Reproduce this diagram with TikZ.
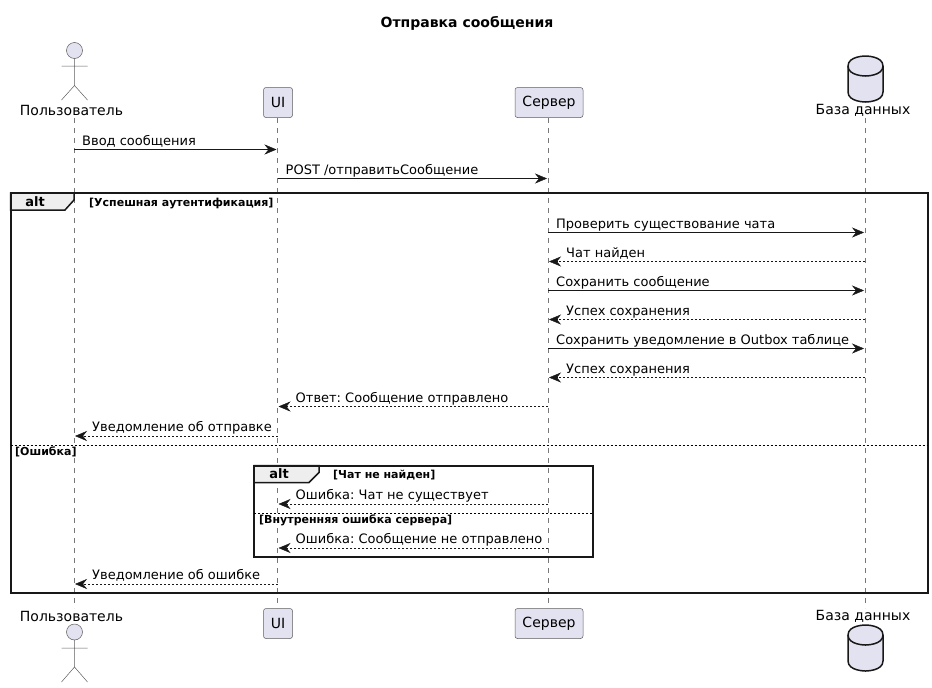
\documentclass[tikz,border=0pt]{standalone}
\usepackage{fontspec}
\setmainfont{DejaVu Sans}
\usetikzlibrary{arrows.meta}
\frenchspacing
\definecolor{partfill}{HTML}{E2E2F0}
\definecolor{ink}{HTML}{181818}
\definecolor{tabfill}{HTML}{EEEEEE}
\definecolor{lifecol}{HTML}{777777}
\tikzset{
  lifeline/.style={draw=lifecol,line width=0.5pt,dash pattern=on 5pt off 5pt},
  part/.style={draw=ink!70,line width=0.5pt,fill=partfill,rounded corners=2.5pt,minimum height=30pt,inner sep=0pt,font=\fontsize{14}{16}\selectfont},
  plabel/.style={inner sep=0pt,font=\fontsize{14}{16}\selectfont,anchor=center},
  sync/.style={draw=ink,line width=1pt,shorten >=1pt,-{Stealth[length=12pt,width=10pt,inset=4pt,fill=ink,line width=0.4pt]}},
  reply/.style={draw=ink,line width=1pt,shorten >=1pt,dash pattern=on 2pt off 2pt,-{Stealth[length=12pt,width=10pt,inset=4pt,fill=ink,line width=0.4pt]}},
  msg/.style={anchor=base west,inner sep=0pt,yshift=4.5pt,font=\fontsize{13}{15}\selectfont,text=black},
  frameline/.style={draw=ink,line width=2pt},
  tabshape/.style={draw=ink,line width=1.5pt,fill=tabfill},
  divider/.style={draw=black,line width=1pt,dash pattern=on 2pt off 2pt},
  altlabel/.style={inner sep=0pt,font=\fontsize{13}{15}\bfseries\selectfont},
  guard/.style={anchor=base west,inner sep=0pt,font=\fontsize{11}{13}\bfseries\selectfont},
  actorbody/.style={draw=ink!70,line width=0.5pt,fill=partfill},
  dbbody/.style={draw=ink,line width=1.5pt,fill=partfill}
}
\begin{document}
\begin{tikzpicture}[x=1pt,y=-1pt]
\useasboundingbox (0,0) rectangle (932,688);
% title
\node[inner sep=0pt,font=\fontsize{14}{16}\bfseries\selectfont] (title) at (467,23) {Отправка сообщения};
% participants, top
\node[plabel] (userTopName) at (71.5,110) {Пользователь};
\node[part,minimum width=29pt] (uiTop) at (278,102.5) {UI};
\node[part,minimum width=68pt] (srvTop) at (549,102.5) {Сервер};
\node[plabel] (dbTopName) at (863,110) {База данных};
% participants, bottom
\node[plabel] (userBotName) at (71.5,616) {Пользователь};
\node[part,minimum width=29pt] (uiBot) at (278,623.5) {UI};
\node[part,minimum width=68pt] (srvBot) at (549,623.5) {Сервер};
\node[plabel] (dbBotName) at (863,616) {База данных};
% lifeline ends
\coordinate (user) at (74,118);
\coordinate (userEnd) at (74,608);
\coordinate (ui) at (277.5,118);
\coordinate (uiEnd) at (277.5,608);
\coordinate (srv) at (548,118);
\coordinate (srvEnd) at (548,608);
\coordinate (db) at (865,118);
\coordinate (dbEnd) at (865,608);
\draw[lifeline] (user) -- (userEnd);
\draw[lifeline] (ui) -- (uiEnd);
\draw[lifeline] (srv) -- (srvEnd);
\draw[lifeline] (db) -- (dbEnd);
% actors
\draw[actorbody] (74.5,50.5) circle[radius=8];
\draw[draw=ink!70,line width=0.5pt] (74.5,58.5) -- (74.5,85.5) (61.5,66) -- (87.5,66) (61.5,100) -- (74.5,85.5) -- (87.5,100);
\draw[actorbody] (74.5,632) circle[radius=8];
\draw[draw=ink!70,line width=0.5pt] (74.5,640) -- (74.5,667) (61.5,648) -- (87.5,648) (61.5,682) -- (74.5,667) -- (87.5,682);
% databases
\draw[dbbody] (848,66) .. controls (848,56) and (865.5,56) .. (865.5,56) .. controls (865.5,56) and (883,56) .. (883,66) -- (883,92) .. controls (883,102) and (865.5,102) .. (865.5,102) .. controls (865.5,102) and (848,102) .. (848,92) -- cycle;
\draw[draw=ink,line width=1.5pt] (848,66) .. controls (848,76) and (865.5,76) .. (865.5,76) .. controls (865.5,76) and (883,76) .. (883,66);
\draw[dbbody] (848,635) .. controls (848,625) and (865.5,625) .. (865.5,625) .. controls (865.5,625) and (883,625) .. (883,635) -- (883,661) .. controls (883,671) and (865.5,671) .. (865.5,671) .. controls (865.5,671) and (848,671) .. (848,661) -- cycle;
\draw[draw=ink,line width=1.5pt] (848,635) .. controls (848,645) and (865.5,645) .. (865.5,645) .. controls (865.5,645) and (883,645) .. (883,635);
% rows
\coordinate (r1) at (0,149.5);
\coordinate (r2) at (0,178.5);
\coordinate (r3) at (0,232.5);
\coordinate (r4) at (0,261.5);
\coordinate (r5) at (0,290.5);
\coordinate (r6) at (0,319.5);
\coordinate (r7) at (0,348.5);
\coordinate (r8) at (0,377.5);
\coordinate (r9) at (0,406.5);
\coordinate (r10) at (0,436);
\coordinate (r11) at (0,504);
\coordinate (r12) at (0,548);
\coordinate (r13) at (0,584);
% outer frame
\draw[tabshape] (10.5,193) -- (74,193) -- (74,200) -- (65,210) -- (10.5,210) -- cycle;
\draw[frameline] (10.5,193) rectangle (927.5,593);
\node[altlabel] (altOuter) at (35,202) {alt};
\node[guard] (g1) at (89,206) {[Успешная аутентификация]};
\draw[divider] (10.5,445) -- (927.5,445);
\node[guard] (g2) at (15,455) {[Ошибка]};
% inner frame
\draw[tabshape] (254,465.5) -- (319,465.5) -- (319,472.5) -- (309,482.5) -- (254,482.5) -- cycle;
\draw[frameline] (254,465.5) rectangle (593,556.5);
\node[altlabel] (altInner) at (279,474) {alt};
\node[guard] (g3) at (333,478) {[Чат не найден]};
\draw[divider] (254,513) -- (593,513);
\node[guard] (g4) at (259,523) {[Внутренняя ошибка сервера]};
% messages
\draw[sync] (user |- r1) -- (ui |- r1);
\node[msg,xshift=8pt] (t1) at (user |- r1) {Ввод сообщения};
\draw[sync] (ui |- r2) -- (srv |- r2);
\node[msg,xshift=8pt] (t2) at (ui |- r2) {POST /отправитьСообщение};
\draw[sync] (srv |- r3) -- (db |- r3);
\node[msg,xshift=8pt] (t3) at (srv |- r3) {Проверить существование чата};
\draw[reply] (db |- r4) -- (srv |- r4);
\node[msg,xshift=18pt] (t4) at (srv |- r4) {Чат найден};
\draw[sync] (srv |- r5) -- (db |- r5);
\node[msg,xshift=8pt] (t5) at (srv |- r5) {Сохранить сообщение};
\draw[reply] (db |- r6) -- (srv |- r6);
\node[msg,xshift=18pt] (t6) at (srv |- r6) {Успех сохранения};
\draw[sync] (srv |- r7) -- (db |- r7);
\node[msg,xshift=8pt] (t7) at (srv |- r7) {Сохранить уведомление в Outbox таблице};
\draw[reply] (db |- r8) -- (srv |- r8);
\node[msg,xshift=18pt] (t8) at (srv |- r8) {Успех сохранения};
\draw[reply] (srv |- r9) -- (ui |- r9);
\node[msg,xshift=18pt] (t9) at (ui |- r9) {Ответ: Сообщение отправлено};
\draw[reply] (ui |- r10) -- (user |- r10);
\node[msg,xshift=18pt] (t10) at (user |- r10) {Уведомление об отправке};
\draw[reply] (srv |- r11) -- (ui |- r11);
\node[msg,xshift=18pt] (t11) at (ui |- r11) {Ошибка: Чат не существует};
\draw[reply] (srv |- r12) -- (ui |- r12);
\node[msg,xshift=18pt] (t12) at (ui |- r12) {Ошибка: Сообщение не отправлено};
\draw[reply] (ui |- r13) -- (user |- r13);
\node[msg,xshift=18pt] (t13) at (user |- r13) {Уведомление об ошибке};
\end{tikzpicture}
\end{document}
